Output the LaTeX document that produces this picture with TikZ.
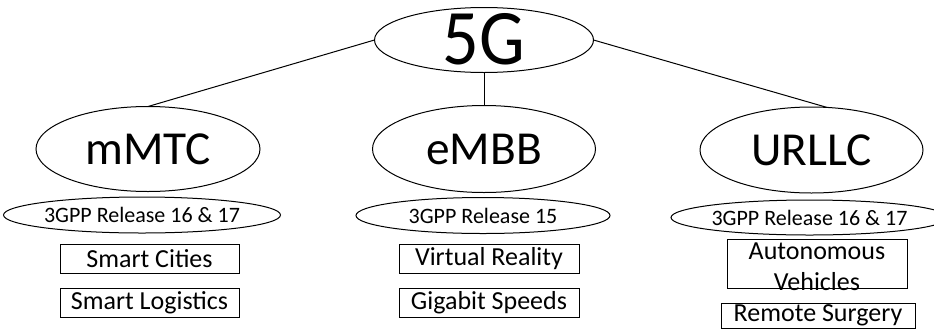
\documentclass[tikz,border=0pt]{standalone}
\usepackage{fontspec}
\setmainfont{Carlito}
\usetikzlibrary{shapes.geometric}
\begin{document}
\begin{tikzpicture}[x=0.75pt,y=-0.75pt,
  every node/.style={inner sep=0pt,outer sep=0pt},
  ell/.style={draw,line width=0.75pt,ellipse},
  big/.style={ell,font=\fontsize{35.5}{40}\selectfont},
  rel/.style={ell,font=\fontsize{16.5}{19}\selectfont,minimum width=254*0.75pt,minimum height=36*0.75pt},
  box/.style={draw,line width=0.75pt,rectangle,font=\fontsize{19.5}{22.5}\selectfont,minimum width=179*0.75pt,minimum height=29*0.75pt},
  conn/.style={line width=0.75pt}]
\useasboundingbox (0,0) rectangle (934,329);
\node[ell,minimum width=219*0.75pt,minimum height=65*0.75pt] (g5) at (484,40) {};
\node[font=\fontsize{59}{62}\selectfont] (g5t) at (484,39) {\scalebox{0.92}[1]{5G}};
\node[big,minimum width=224*0.75pt,minimum height=85*0.75pt] (mmtc) at (148,149) {mMTC};
\node[big,minimum width=223*0.75pt,minimum height=87*0.75pt] (embb) at (484,149) {eMBB};
\node[big,minimum width=223*0.75pt,minimum height=86*0.75pt] (urllc) at (811.5,150) {URLLC};
\draw[conn] (g5.west) -- (mmtc.north);
\draw[conn] (g5.south) -- (embb.north);
\draw[conn] (g5.east) -- (urllc.70);
\node[rel] (r1) at (142,215) {3GPP Release 16 \& 17};
\node[rel] (r2) at (483,215.5) {3GPP Release 15};
\node[rel,minimum width=247*0.75pt,minimum height=35*0.75pt] (r3) at (809.5,217.5) {3GPP Release 16 \& 17};
\node[box] (sc) at (149.5,258.5) {Smart Cities};
\node[box] (sl) at (149.5,302.5) {Smart Logistics};
\node[box,minimum width=180*0.75pt] (vr) at (489,258.5) {Virtual Reality};
\node[box,minimum width=180*0.75pt] (gs) at (489,302.5) {Gigabit Speeds};
\node[box,minimum width=180*0.75pt,minimum height=49*0.75pt] (av) at (817,263.5) {};
\node[font=\fontsize{19.5}{23.3}\selectfont,align=center] (avt) at (817,267) {Autonomous\\Vehicles};
\node[box,minimum width=194*0.75pt,minimum height=25*0.75pt] (rs) at (818,315.5) {Remote Surgery};
\end{tikzpicture}
\end{document}
